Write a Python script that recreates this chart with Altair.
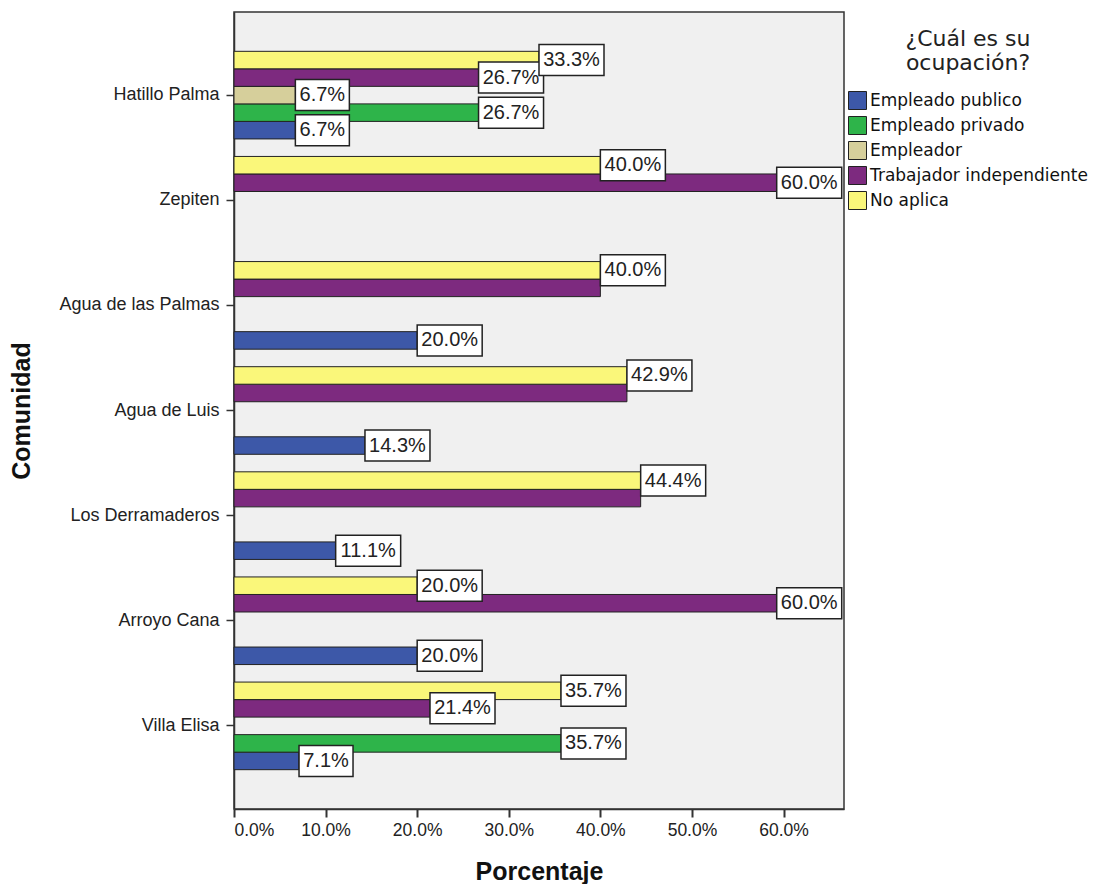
import altair as alt
import pandas as pd

communities = ["Hatillo Palma", "Zepiten", "Agua de las Palmas", "Agua de Luis",
               "Los Derramaderos", "Arroyo Cana", "Villa Elisa"]
occupations = ["Empleado publico", "Empleado privado", "Empleador",
               "Trabajador independiente", "No aplica"]

empleado_publico = [6.7, 0, 20.0, 14.3, 11.1, 20.0, 7.1]
empleado_privado = [26.7, 0, 0, 0, 0, 0, 35.7]
empleador = [6.7, 0, 0, 0, 0, 0, 0]
trabajador_indep = [26.7, 60.0, 40.0, 42.9, 44.4, 60.0, 21.4]
no_aplica = [33.3, 40.0, 40.0, 42.9, 44.4, 20.0, 35.7]
# labels hidden in the original (overlapping) : (community, occupation)
hidden_labels = [("Agua de las Palmas", "Trabajador independiente"),
                 ("Agua de Luis", "Trabajador independiente"),
                 ("Los Derramaderos", "Trabajador independiente")]

colors = ["#3D58A8", "#2EB44A", "#D6CF9B", "#7D2A7F", "#FAF77A"]
x_ticks = [0, 10, 20, 30, 40, 50, 60]
X_MAX = 66.6
PX_PER_UNIT = 610 / X_MAX

series = [empleado_publico, empleado_privado, empleador, trabajador_indep, no_aplica]
rows = []
for i, c in enumerate(communities):
    for occ, vals in zip(occupations, series):
        v = vals[i]
        if v > 0:
            rows.append({"Comunidad": c, "Ocupacion": occ, "Porcentaje": v,
                         "label": f"{v:.1f}%",
                         "show": (c, occ) not in hidden_labels})
df = pd.DataFrame(rows)

occ_rev = occupations[::-1]

y_enc = alt.Y("Comunidad:N", sort=communities,
              scale=alt.Scale(paddingInner=1 / 6, paddingOuter=0.374),
              axis=alt.Axis(title="Comunidad", labelFont="Liberation Sans", labelFontSize=18,
                            labelColor="#222", tickSize=8, tickColor="#333", tickWidth=1.5,
                            labelPadding=7, domainColor="#333", domainWidth=1.5,
                            titleFont="Liberation Sans", titleFontSize=25, titleFontWeight="bold",
                            titleColor="#111", titleX=-200, titleY=398.5, titleAngle=270))
yoff_enc = alt.YOffset("Ocupacion:N", sort=occ_rev,
                       scale=alt.Scale(domain=occ_rev, paddingInner=0, paddingOuter=0))

bars = alt.Chart(df).mark_bar(stroke="#222", strokeWidth=1).encode(
    x=alt.X("Porcentaje:Q",
            scale=alt.Scale(domain=[0, X_MAX], nice=False),
            axis=alt.Axis(values=x_ticks, labelExpr="format(datum.value, '.1f') + '%'",
                          grid=False, tickSize=8, tickColor="#333", tickWidth=2,
                          domainColor="#333", domainWidth=1.5,
                          labelFont="Liberation Sans", labelFontSize=17.5, labelColor="#222",
                          labelPadding=4, title="Porcentaje", titleFont="Liberation Sans",
                          titleFontSize=25, titleFontWeight="bold", titleColor="#111",
                          titleY=70, titleBaseline="alphabetic")),
    y=y_enc,
    yOffset=yoff_enc,
    color=alt.Color("Ocupacion:N", scale=alt.Scale(domain=occupations, range=colors),
                    legend=alt.Legend(title=["¿Cuál es su", "ocupación?"], orient="none",
                                      legendX=614, legendY=17, padding=0,
                                      titleFont="DejaVu Sans", titleFontSize=22,
                                      titleFontWeight="normal", titleColor="#222",
                                      titleAnchor="middle", titleAlign="center",
                                      titleLineHeight=24, titlePadding=16,
                                      labelFont="DejaVu Sans", labelFontSize=17,
                                      labelColor="#111", labelOffset=3, labelLimit=400,
                                      symbolType="square", symbolSize=324,
                                      symbolStrokeColor="#222", symbolStrokeWidth=1,
                                      symbolOpacity=1, rowPadding=2)),
)

labels_base = alt.Chart(df).transform_filter("datum.show").transform_calculate(
    bw=f"(length(datum.label) * 11 + 10) / {PX_PER_UNIT}",
).transform_calculate(
    x0=f"min(datum.Porcentaje, {X_MAX} - 0.25 - datum.bw)",
).transform_calculate(
    x1="datum.x0 + datum.bw",
    xm="datum.x0 + datum.bw / 2",
)

boxes = labels_base.mark_bar(fill="white", stroke="#222", strokeWidth=1.5, size=31).encode(
    x="x0:Q", x2="x1:Q", y=y_enc, yOffset=yoff_enc,
)

texts = labels_base.mark_text(font="Liberation Sans", fontSize=20, color="#222",
                              align="center", baseline="middle").encode(
    x="xm:Q", y=y_enc, yOffset=yoff_enc, text="label:N",
)

chart = alt.layer(bars, boxes, texts).properties(
    width=610, height=797,
    autosize=alt.AutoSizeParams(type="none"),
    padding={"left": 226, "top": 4, "right": 248, "bottom": 75},
    background="white",
).configure_view(fill="#F0F0F0", stroke="#333", strokeWidth=1.5)

chart.save("out.html", embed_options={"renderer": "svg", "actions": False})
